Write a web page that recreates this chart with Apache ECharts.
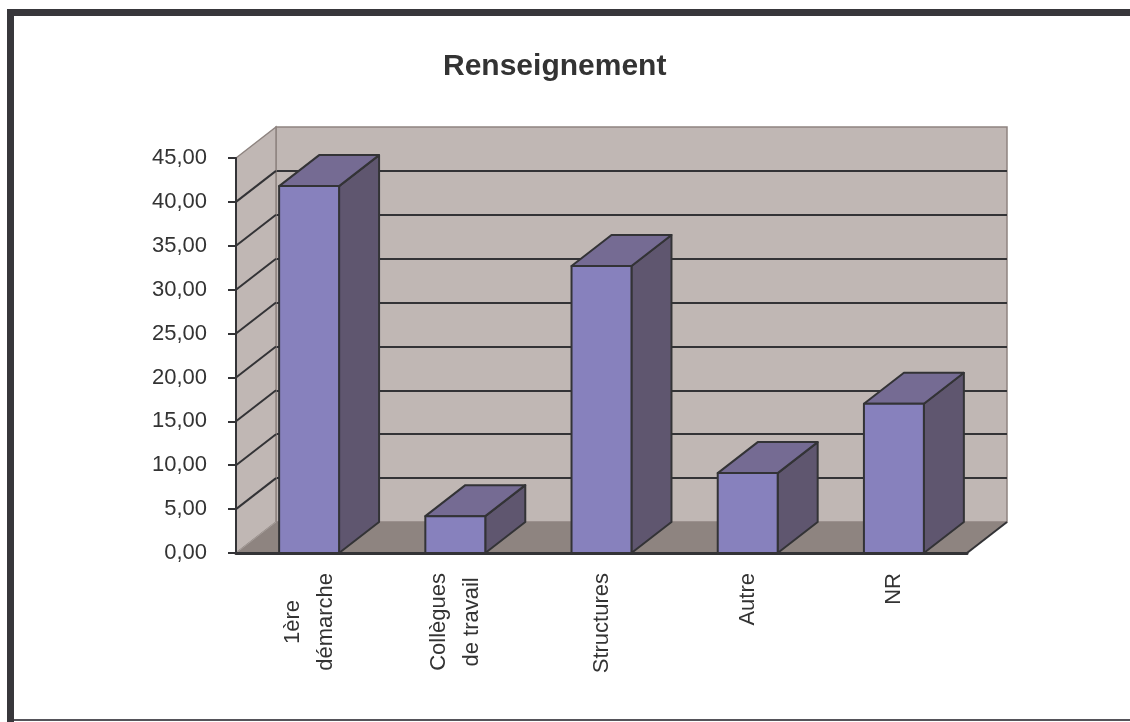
<!DOCTYPE html>
<html>
<head>
<meta charset="utf-8">
<title>Renseignement</title>
<script src="https://cdn.jsdelivr.net/npm/echarts@6/dist/echarts.min.js"></script>
<style>
  html, body { margin: 0; padding: 0; background: #fff; }
  #chart { width: 1130px; height: 722px; }
</style>
</head>
<body>
<div id="chart"></div>
<script>
// données
const categories = ['1ère\ndémarche', 'Collègues\nde travail', 'Structures', 'Autre', 'NR'];
const values = [41.8, 4.2, 32.7, 9.1, 17.0];
const yMin = 0;
const yMax = 45;
const yStep = 5;

// profondeur de la vue 3D (px)
const depthX = 40;
const depthY = -31;
const colors = {
  front: '#8781bd',
  top: '#756b93',
  side: '#5f566f',
  wall: '#c0b7b4',
  floor: '#8e8480',
  edge: '#333336',
  wallEdge: '#8e8480',
  text: '#333333'
};
const font = "'Liberation Sans', Arial, sans-serif";

const chart = echarts.init(document.getElementById('chart'));

function fmt(v) {
  return v.toFixed(2).replace('.', ',');
}

// mur de gauche, sol et lignes diagonales
function renderWalls(params, api) {
  const cs = params.coordSys;
  const x0 = cs.x;
  const x1 = cs.x + cs.width;
  const yb = api.coord([0, yMin])[1];
  const yt = api.coord([0, yMax])[1];
  const children = [];
  children.push({
    type: 'polygon',
    shape: { points: [[x0, yb], [x0, yt], [x0 + depthX, yt + depthY], [x0 + depthX, yb + depthY]] },
    style: { fill: colors.wall, stroke: colors.wallEdge, lineWidth: 1.5 }
  });
  children.push({
    type: 'polygon',
    shape: { points: [[x0, yb], [x1, yb], [x1 + depthX, yb + depthY], [x0 + depthX, yb + depthY]] },
    style: { fill: colors.floor }
  });
  children.push({
    type: 'line',
    shape: { x1: x0, y1: yb, x2: x0 + depthX, y2: yb + depthY },
    style: { stroke: '#a79f9b', lineWidth: 1 }
  });
  for (let v = yMin + yStep; v < yMax; v += yStep) {
    const y = api.coord([0, v])[1];
    children.push({
      type: 'line',
      shape: { x1: x0, y1: y, x2: x0 + depthX, y2: y + depthY },
      style: { stroke: colors.edge, lineWidth: 2 }
    });
  }
  children.push({
    type: 'line',
    shape: { x1: x1, y1: yb, x2: x1 + depthX, y2: yb + depthY },
    style: { stroke: colors.edge, lineWidth: 2 }
  });
  return { type: 'group', children: children };
}

// barre en 3D : face, dessus, côté
function renderBar(params, api) {
  const idx = api.value(0);
  const val = api.value(1);
  const top = api.coord([idx, val]);
  const base = api.coord([idx, 0]);
  const w = api.size([1, 0])[0] * 0.41;
  const l = top[0] - w / 2;
  const r = top[0] + w / 2;
  const yt = top[1];
  const yb = base[1];
  const st = { stroke: colors.edge, lineWidth: 2, lineJoin: 'round' };
  return {
    type: 'group',
    children: [
      {
        type: 'polygon',
        shape: { points: [[r, yb], [r, yt], [r + depthX, yt + depthY], [r + depthX, yb + depthY]] },
        style: Object.assign({}, st, { fill: colors.side })
      },
      {
        type: 'polygon',
        shape: { points: [[l, yt], [r, yt], [r + depthX, yt + depthY], [l + depthX, yt + depthY]] },
        style: Object.assign({}, st, { fill: colors.top })
      },
      {
        type: 'rect',
        shape: { x: l, y: yt, width: w, height: yb - yt },
        style: Object.assign({}, st, { fill: colors.front })
      }
    ]
  };
}

let option = {
  animation: false,
  backgroundColor: '#ffffff',
  title: {
    text: 'Renseignement',
    left: 443,
    top: 52,
    padding: 0,
    textStyle: { fontFamily: font, fontSize: 30, fontWeight: 'bold', color: colors.text }
  },
  graphic: [
    { type: 'rect', shape: { x: 7, y: 9, width: 1123, height: 7 }, style: { fill: '#38373b' } },
    { type: 'rect', shape: { x: 7, y: 9, width: 7, height: 713 }, style: { fill: '#38373b' } },
    { type: 'rect', shape: { x: 14, y: 719, width: 1116, height: 2 }, style: { fill: '#55545a' } }
  ],
  grid: [
    { left: 236, top: 158, width: 731, height: 395 },
    {
      left: 276, top: 127, width: 731, height: 395,
      show: true, backgroundColor: colors.wall, borderColor: colors.wallEdge, borderWidth: 1.5
    }
  ],
  xAxis: [
    {
      type: 'category',
      gridIndex: 0,
      data: categories,
      z: 10,
      axisLine: { lineStyle: { color: colors.edge, width: 3 } },
      axisTick: { length: 8, lineStyle: { color: colors.edge, width: 2 } },
      axisLabel: {
        rotate: 90,
        interval: 0,
        margin: 20,
        formatter: function (v) {
          return v.split('\n').map(function (s) { return '{c|' + s + '}'; }).join('\n');
        },
        rich: {
          c: { align: 'center', fontFamily: font, fontSize: 22, lineHeight: 33, color: colors.text }
        }
      }
    },
    { type: 'category', gridIndex: 1, data: categories, show: false }
  ],
  yAxis: [
    {
      type: 'value',
      gridIndex: 0,
      min: yMin,
      max: yMax,
      interval: yStep,
      z: 10,
      axisLine: { show: true, lineStyle: { color: colors.edge, width: 2 } },
      axisTick: { show: true, length: 8, lineStyle: { color: colors.edge, width: 2 } },
      axisLabel: { margin: 29, formatter: fmt, fontFamily: font, fontSize: 22, color: colors.text },
      splitLine: { show: false }
    },
    {
      type: 'value',
      gridIndex: 1,
      min: yMin,
      max: yMax,
      interval: yStep,
      axisLine: { show: false },
      axisTick: { show: false },
      axisLabel: { show: false },
      splitLine: { show: true, showMinLine: false, showMaxLine: false, lineStyle: { color: colors.edge, width: 2 } }
    }
  ],
  series: [
    {
      type: 'custom',
      name: 'murs',
      xAxisIndex: 0,
      yAxisIndex: 0,
      z: 1,
      silent: true,
      renderItem: renderWalls,
      data: [[0, 0]]
    },
    {
      type: 'custom',
      name: 'Renseignement',
      xAxisIndex: 0,
      yAxisIndex: 0,
      z: 3,
      renderItem: renderBar,
      data: values.map(function (v, i) { return [i, v]; })
    }
  ]
};

chart.setOption(option);
</script>
</body>
</html>
